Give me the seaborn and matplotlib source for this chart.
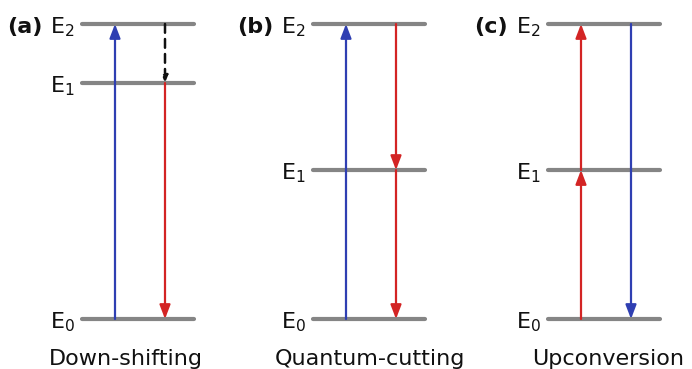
import matplotlib
matplotlib.use("Agg")
import matplotlib.pyplot as plt
import seaborn as sns
import pandas as pd

sns.set_theme(style="white")
plt.rcParams['font.family'] = ['DejaVu Sans']

# ---- data ----
panels = ['(a)', '(b)', '(c)']
captions = ['Down-shifting', 'Quantum-cutting', 'Upconversion']
level_labels = ['E_0', 'E_1', 'E_2']
E0_energy = [0.0, 0.0, 0.0]
E1_energy = [0.80, 0.505, 0.505]
E2_energy = [1.0, 1.0, 1.0]
# transitions: (panel, column, from level, to level, kind)
trans_panel = [0, 0, 0, 1, 1, 1, 2, 2, 2]
trans_col = [0, 1, 1, 0, 1, 1, 0, 0, 1]
trans_from = [0, 2, 1, 0, 2, 1, 0, 1, 2]
trans_to = [2, 1, 0, 2, 1, 0, 1, 2, 0]
trans_kind = ['blue', 'relax', 'red', 'blue', 'red', 'red', 'red', 'red', 'blue']

# ---- layout (pixel based) ----
W, H = 692, 369
panel_left = [82, 313, 548]
level_len = 112
col_off = [33, 83]
caption_x = [126, 370, 608]
top_px, span_px = 24, 295


def py(p):
    return 1 - (p - top_px) / span_px


colors = {'blue': '#2f3fb2', 'red': '#d32424', 'relax': '#111111'}
grey = '#858585'

fig = plt.figure(figsize=(W / 100, H / 100), dpi=100)
ax = fig.add_axes([0, 0, 1, 1])

energies = [E0_energy, E1_energy, E2_energy]
rows = []
for p in range(3):
    for k in range(3):
        for x in (panel_left[p], panel_left[p] + level_len):
            rows.append(dict(x=x, y=energies[k][p], seg=f'{p}-{k}'))
df = pd.DataFrame(rows)
sns.lineplot(data=df, x='x', y='y', units='seg', estimator=None, sort=False,
             color=grey, lw=3.0, ax=ax, zorder=2, legend=False)
ax.set_xlim(0, W)
ax.set_ylim(py(H), py(0))
ax.axis('off')

pt = 0.72  # points per pixel
for p in range(3):
    L = panel_left[p]
    for k in range(3):
        ax.annotate(r'$\mathregular{%s}$' % level_labels[k], xy=(L, energies[k][p]),
                    xytext=(-7 * pt, -9 * pt), textcoords='offset points',
                    ha='right', va='baseline', fontsize=16, color='#111111')
    ax.annotate(panels[p], xy=(L, energies[2][p]), xytext=(-40 * pt, -9 * pt),
                textcoords='offset points', ha='right', va='baseline',
                fontsize=16, fontweight='bold', color='#111111')
    ax.text(caption_x[p], py(365), captions[p], ha='center', va='baseline',
            fontsize=16, color='#111111')

for p, c, f, t, kind in zip(trans_panel, trans_col, trans_from, trans_to, trans_kind):
    x = panel_left[p] + col_off[c]
    y0 = energies[f][p]
    y1 = energies[t][p]
    if kind == 'relax':
        ax.annotate('', xy=(x, y1), xytext=(x, y0),
                    arrowprops=dict(arrowstyle='-|>,head_length=0.5,head_width=0.2',
                                    mutation_scale=8, lw=1.8, color=colors[kind],
                                    linestyle=(0, (3.5, 2.5)), shrinkA=0, shrinkB=0),
                    zorder=4)
    else:
        ax.annotate('', xy=(x, y1), xytext=(x, y0),
                    arrowprops=dict(arrowstyle='-|>,head_length=0.6,head_width=0.23',
                                    mutation_scale=14, lw=1.6, color=colors[kind],
                                    shrinkA=0, shrinkB=0),
                    zorder=4)

fig.savefig('out.png', dpi=100)
